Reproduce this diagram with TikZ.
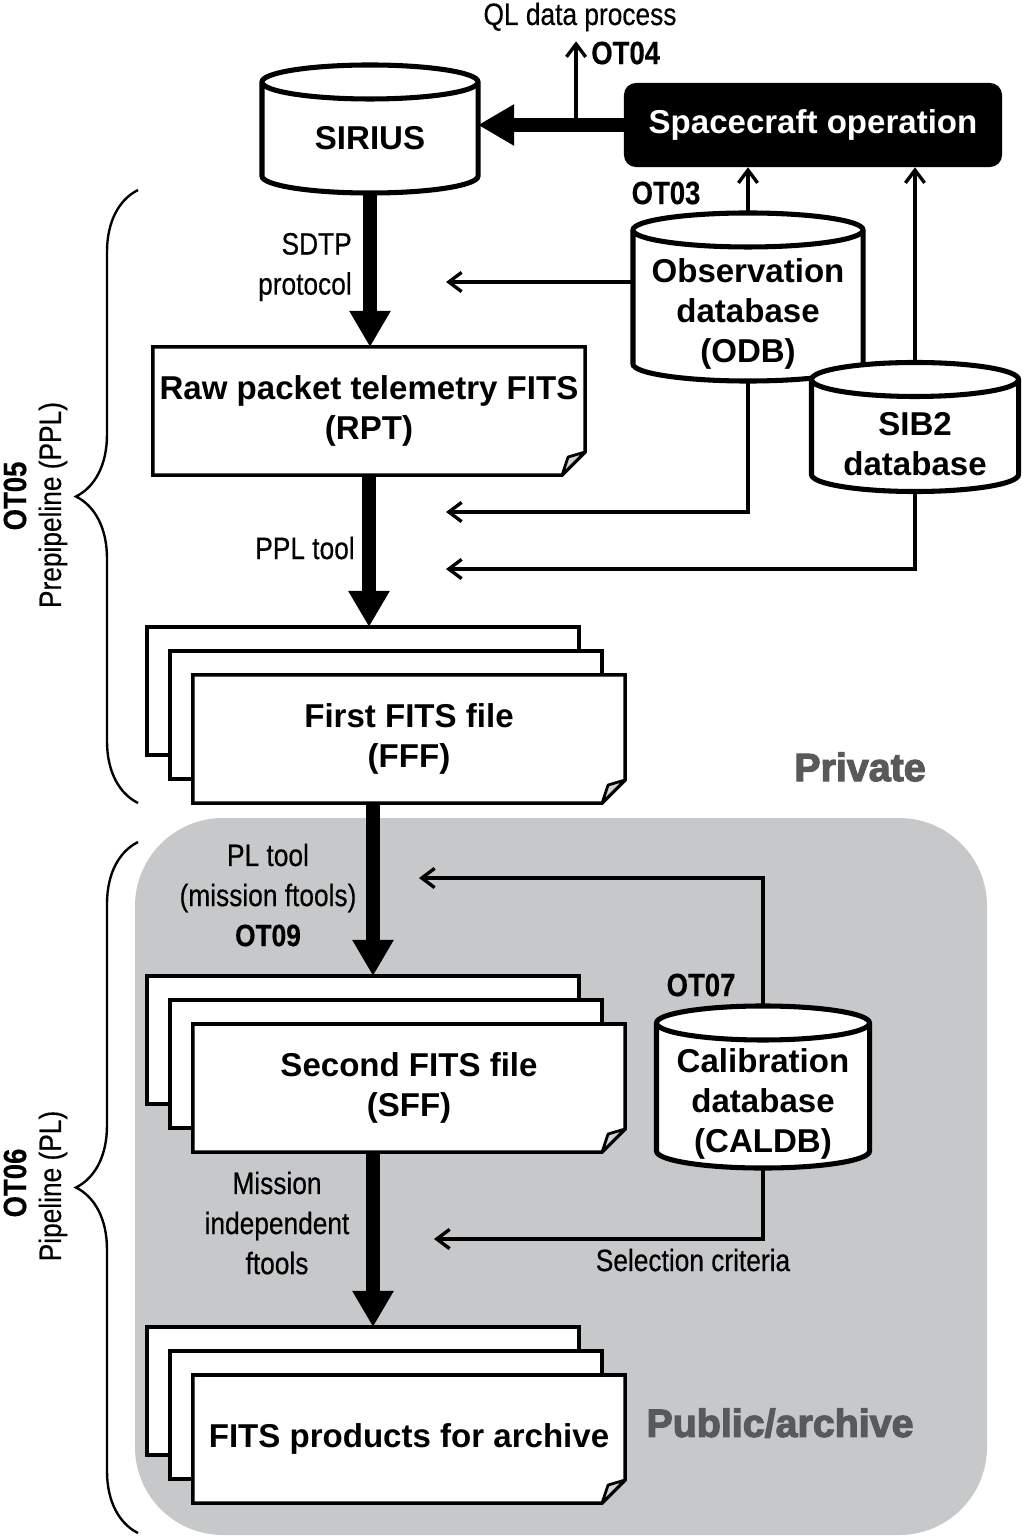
\documentclass[tikz,border=0pt]{standalone}
\usepackage{fontspec}
\setmainfont{Liberation Sans}
\newfontfamily\narrowfont[FakeStretch=0.85,FakeBold=0.4]{Liberation Sans}
\newfontfamily\heavyfont[FakeBold=3]{Liberation Sans Bold}
\usetikzlibrary{arrows.meta,calc,decorations.pathreplacing,positioning}
\definecolor{regiongray}{HTML}{C7C8CA}
\definecolor{zonegray}{HTML}{58595B}
\definecolor{foldgray}{HTML}{D2D3D5}
\pgfdeclarelayer{back}
\pgfdeclarelayer{paper}
\pgfsetlayers{back,paper,main}

\newcommand{\boxfont}{\fontsize{23.5}{28.5}\selectfont\bfseries}
\newcommand{\labelfont}{\narrowfont\fontsize{22}{28.5}\selectfont}
\newcommand{\tagfont}{\narrowfont\bfseries\fontsize{23}{28}\selectfont}
\newcommand{\zonefont}{\heavyfont\fontsize{28}{30}\selectfont}
\newcommand{\dbry}{0.425cm}

\tikzset{
  sheet/.style={draw=black, fill=white, line width=2.5pt},
  fold/.style={draw=black, fill=foldgray, line width=2pt, line join=round},
  dbline/.style={draw=black, fill=white, line width=3.6pt},
  scbox/.style={fill=black, text=white, rounded corners=0.3cm, minimum width=9.45cm, minimum height=2.1cm, font=\boxfont},
  filebox/.style={minimum width=10.8cm, minimum height=3.2cm, inner sep=0pt, outer sep=0pt, align=center, font=\boxfont},
  dbbox/.style={inner sep=0pt, outer sep=0pt, align=center, font=\boxfont},
  bigarrow/.style={line width=9.5pt, -{Triangle[width=0.97cm,length=0.9cm]}},
  thinarrow/.style={line width=2.4pt, -{Straight Barb[length=0.32cm,width=0.48cm]}},
  bracket/.style={decorate, decoration={brace, amplitude=1.55cm}, line width=1.7pt},
  lbl/.style={font=\labelfont, inner sep=0pt, align=center},
  tag/.style={font=\tagfont, inner sep=0pt},
  zone/.style={font=\zonefont, text=zonegray, inner sep=0pt},
}

\newcommand{\dbdraw}[1]{%
  \begin{pgfonlayer}{paper}
    \draw[dbline] let \p1=(#1.north west), \p2=(#1.south east), \n1={0.5*(\x2-\x1)} in
      (\x1,\y1+\dbry) -- (\x1,\y2+\dbry)
      arc[start angle=180, end angle=360, x radius=\n1, y radius=\dbry]
      -- (\x2,\y1+\dbry)
      arc[start angle=0, end angle=180, x radius=\n1, y radius=\dbry] -- cycle
      (\x1,\y1+\dbry) arc[start angle=180, end angle=360, x radius=\n1, y radius=\dbry];
  \end{pgfonlayer}
  \coordinate (#1-top) at ($(#1.north)+(0,-34)$);}

\newcommand{\foldframe}[1]{%
  \begin{pgfonlayer}{paper}
    \draw[sheet] (#1.north west) -- (#1.north east) -- ($(#1.south east)+(0,-23)$)
      -- ($(#1.south east)+(-23,0)$) -- (#1.south west) -- cycle;
    \draw[fold] ($(#1.south east)+(0,-23)$) -- ($(#1.south east)+(-17,-18)$)
      -- ($(#1.south east)+(-23,0)$) -- cycle;
  \end{pgfonlayer}}

\newcommand{\filestack}[1]{%
  \begin{pgfonlayer}{paper}
    \draw[sheet] ($(#1.north west)+(-46,-48)$) rectangle ($(#1.south east)+(-46,-48)$);
    \draw[sheet] ($(#1.north west)+(-23,-24)$) rectangle ($(#1.south east)+(-23,-24)$);
  \end{pgfonlayer}
  \coordinate (#1-back) at ($(#1.north)+(-46,-48)$);
  \foldframe{#1}}

\begin{document}
\begin{tikzpicture}[x=0.025cm, y=-0.025cm]
\useasboundingbox (0,0) rectangle (1025,1537);
\begin{pgfonlayer}{back}
\fill[white] (0,0) rectangle (1025,1537);
\fill[regiongray, rounded corners=2.2cm] (135,818) rectangle (987,1535);
\end{pgfonlayer}

% operation and storage
\node[scbox] (sc) at (813,125) {Spacecraft operation};
\node[dbbox, minimum width=5.4cm, minimum height=2.35cm, text depth=12pt] (sirius) at (370,146) {SIRIUS};
\dbdraw{sirius}
\draw[bigarrow] (sc.west) -- (sc.west -| sirius.east);
\node[tag, anchor=west] (ot04) at (591,53) {OT04};
\node[lbl] (ql) at (580,17) {QL data process};
\coordinate (qlbase) at ($(sc.west)!0.327!(sc.west -| sirius.east)$);
\draw[thinarrow] (qlbase) -- (qlbase |- ot04.north);

\node[tag] (ot03) at (666,193) {OT03};
\node[dbbox, minimum width=5.75cm, minimum height=3.35cm] (odb) at (748,314) {Observation\\database\\(ODB)};
\node[dbbox, minimum width=5.175cm, minimum height=2.375cm] (sib) at (915,444) {SIB2\\database};
\dbdraw{odb}
\dbdraw{sib}
\draw[thinarrow] (odb-top) -- (odb.north |- sc.south);
\draw[thinarrow] (sib-top) -- (sib.north |- sc.south);

% prepipeline
\node[filebox] (rpt) at (369,411) {Raw packet telemetry FITS\\(RPT)};
\foldframe{rpt}
\node[lbl, align=right, anchor=east] (sdtp) at (352,267) {SDTP\\protocol};
\draw[bigarrow] (sirius.south) -- (sirius.south |- rpt.north);
\coordinate (odbin) at (446,282);
\coordinate (obsin) at (446,512);
\coordinate (sibin) at (446,569);
\draw[thinarrow] (odb.west |- odbin) -- (odbin);
\draw[thinarrow] (odb.south) |- (obsin);
\draw[thinarrow] (sib.south) |- (sibin);

\node[filebox] (fff) at (409,739) {First FITS file\\(FFF)};
\filestack{fff}
\node[lbl, anchor=east] (ppltool) at (355,548) {PPL tool};
\draw[bigarrow] (rpt.south) -- (rpt.south |- fff-back);
\node[zone] (private) at (860,767) {Private};

% pipeline
\node[filebox] (sff) at (409,1088) {Second FITS file\\(SFF)};
\filestack{sff}
\node[lbl] (pltool) at (268,895) {PL tool\\(mission ftools)\\\textbf{OT09}};
\coordinate (plfrom) at ($(fff.south)+(-36,0)$);
\draw[bigarrow] (plfrom) -- (plfrom |- sff-back);

\node[tag] (ot07) at (701,985) {OT07};
\node[dbbox, minimum width=5.325cm, minimum height=3.2cm] (caldb) at (763,1104) {Calibration\\database\\(CALDB)};
\dbdraw{caldb}
\coordinate (calin) at (419,878);
\coordinate (selin) at (434,1239);
\draw[thinarrow] (caldb-top) |- (calin);
\draw[thinarrow] (caldb.south) |- (selin);
\node[lbl] (selection) at (693,1260) {Selection criteria};

\node[filebox] (prod) at (409,1439) {FITS products for archive};
\filestack{prod}
\node[lbl] (mift) at (277,1223) {Mission\\independent\\ftools};
\coordinate (mifrom) at ($(sff.south)+(-36,0)$);
\draw[bigarrow] (mifrom) -- (mifrom |- prod-back);
\node[zone] (public) at (780,1423) {Public/archive};

% phases
\draw[bracket] (138,803) -- (138,190);
\draw[bracket] (138,1533) -- (138,842);
\node[tag, rotate=90] (ot05) at (15,496) {OT05};
\node[lbl, rotate=90] (ppl) at (53,505) {Prepipeline (PPL)};
\node[tag, rotate=90] (ot06) at (15,1183) {OT06};
\node[lbl, rotate=90] (pl) at (53,1186) {Pipeline (PL)};
\end{tikzpicture}
\end{document}
